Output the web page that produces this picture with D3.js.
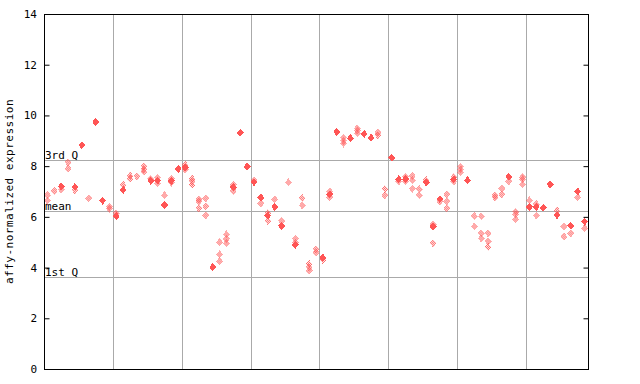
<!DOCTYPE html>
<html>
<head>
<meta charset="utf-8">
<script src="https://cdn.jsdelivr.net/npm/d3@7"></script>
<style>
  body { margin: 0; background: #fff; }
  text { font-family: "DejaVu Sans Mono", monospace; font-size: 11px; }
</style>
</head>
<body>
<div id="chart"></div>
<script>
// samples along x, every 10 samples a gray divider
const sampleCount = 79;
const groupSize = 10;
const yTicks = [0, 2, 4, 6, 8, 10, 12, 14];
const refNames = ['3rd Q', 'mean', '1st Q'];
const refValues = [8.24, 6.22, 3.62];

// [sample index, value] - filled markers
const solidPts = [
  [2, 7.2], [4, 7.18], [5, 8.83], [7, 9.74], [8, 6.64], [10, 6.03], [11, 7.06],
  [15, 7.42], [16, 7.43], [17, 6.47], [18, 7.42], [19, 7.89], [20, 7.95], [24, 4.02],
  [27, 7.17], [28, 9.32], [29, 7.98], [30, 7.37], [31, 6.76], [32, 6.05], [33, 6.39],
  [34, 5.64], [36, 4.9], [40, 4.39], [41, 6.89], [42, 9.35], [44, 9.1], [46, 9.27],
  [47, 9.12], [50, 8.33], [51, 7.48], [52, 7.49], [55, 7.36], [56, 5.62], [57, 6.7],
  [59, 7.48], [61, 7.44], [67, 7.58], [70, 6.39], [71, 6.39], [72, 6.36], [73, 7.28],
  [74, 6.07], [76, 5.65], [77, 7.0], [78, 5.81],
];

// [sample index, value] - dithered markers
const hatchPts = [
  [0, 6.86], [0, 6.64], [1, 7.02], [2, 7.08], [3, 8.15], [3, 7.9], [4, 7.05], [6, 6.73],
  [9, 6.4], [9, 6.32], [10, 6.14], [11, 7.26], [12, 7.62], [12, 7.5], [13, 7.6],
  [14, 8.0], [14, 7.88], [14, 7.78], [15, 7.5], [16, 7.55], [16, 7.32], [17, 6.85],
  [18, 7.5], [18, 7.35], [20, 8.05], [20, 7.87], [21, 7.5], [21, 7.4], [21, 7.26],
  [22, 6.69], [22, 6.61], [22, 6.34], [23, 6.73], [23, 6.42], [23, 6.06], [25, 5.0],
  [25, 4.52], [25, 4.25], [26, 5.31], [26, 5.13], [26, 4.96], [27, 7.26], [27, 7.02],
  [30, 7.43], [31, 6.53], [32, 6.15], [32, 5.84], [33, 6.69], [34, 5.84], [35, 7.36],
  [36, 5.14], [36, 4.98], [37, 6.74], [37, 6.45], [38, 4.14], [38, 4.01], [38, 3.88],
  [39, 4.72], [39, 4.59], [40, 4.3], [41, 7.0], [41, 6.77], [43, 9.12], [43, 9.0],
  [43, 8.89], [45, 9.49], [45, 9.4], [45, 9.29], [48, 9.33], [48, 9.22], [49, 7.1],
  [49, 6.85], [51, 7.39], [52, 7.58], [52, 7.4], [53, 7.61], [53, 7.44], [53, 7.11],
  [54, 7.09], [54, 6.85], [55, 7.45], [56, 5.7], [56, 4.96], [57, 6.61], [58, 6.89],
  [58, 6.61], [58, 6.34], [59, 7.57], [59, 7.39], [60, 7.98], [60, 7.87], [60, 7.75],
  [62, 6.03], [62, 5.62], [63, 6.02], [63, 5.35], [63, 5.15], [64, 5.35], [64, 5.03],
  [64, 4.81], [65, 6.85], [65, 6.77], [66, 7.12], [66, 6.89], [67, 7.4], [68, 6.2],
  [68, 6.1], [68, 5.9], [69, 7.57], [69, 7.48], [69, 7.28], [70, 6.65], [71, 6.5],
  [71, 6.05], [74, 6.24], [75, 5.62], [75, 5.22], [76, 5.35], [77, 6.77], [78, 5.55],
];

const width = 640;
const height = 384;
const margin = { top: 14, right: 52, bottom: 15, left: 44 };
const red = '#ff5555';

const svg = d3.select('#chart')
  .append('svg')
  .attr('width', width)
  .attr('height', height);

// checker pattern for the dithered markers
const pat = svg.append('defs').append('pattern')
  .attr('id', 'dither')
  .attr('width', 2)
  .attr('height', 2)
  .attr('patternUnits', 'userSpaceOnUse');
pat.append('rect').attr('x', 0).attr('y', 0).attr('width', 1).attr('height', 1).attr('fill', red);
pat.append('rect').attr('x', 1).attr('y', 1).attr('width', 1).attr('height', 1).attr('fill', red);

const x = d3.scaleBand()
  .domain(d3.range(sampleCount))
  .range([margin.left, width - margin.right]);

const y = d3.scaleLinear()
  .domain([0, 14])
  .range([height - margin.bottom, margin.top]);

const cx = i => x(i) + x.bandwidth() / 2;

// vertical group dividers
const dividers = d3.range(groupSize, sampleCount, groupSize);
svg.selectAll('.vgrid')
  .data(dividers)
  .enter().append('line')
  .attr('x1', d => Math.round(x(d)) + 0.5)
  .attr('x2', d => Math.round(x(d)) + 0.5)
  .attr('y1', y(14))
  .attr('y2', y(0))
  .attr('stroke', '#aaaaaa')
  .attr('stroke-width', 1);

// quartile / mean lines
svg.selectAll('.ref')
  .data(refValues)
  .enter().append('line')
  .attr('x1', margin.left)
  .attr('x2', width - margin.right)
  .attr('y1', d => Math.round(y(d)) + 0.5)
  .attr('y2', d => Math.round(y(d)) + 0.5)
  .attr('stroke', '#aaaaaa')
  .attr('stroke-width', 1);

svg.selectAll('.refLabel')
  .data(refValues)
  .enter().append('text')
  .attr('x', margin.left + 1)
  .attr('y', d => Math.round(y(d)) - 1)
  .attr('font-size', 11)
  .text((d, i) => refNames[i]);

// markers
const diamond = 'M0,-4L3.5,0L0,4L-3.5,0Z';

svg.selectAll('.hatch')
  .data(hatchPts)
  .enter().append('path')
  .attr('d', diamond)
  .attr('transform', d => `translate(${cx(d[0])},${y(d[1])})`)
  .attr('fill', 'url(#dither)')
  .attr('shape-rendering', 'crispEdges');

svg.selectAll('.solid')
  .data(solidPts)
  .enter().append('path')
  .attr('d', diamond)
  .attr('transform', d => `translate(${cx(d[0])},${y(d[1])})`)
  .attr('fill', red)
  .attr('shape-rendering', 'crispEdges');

// frame and axes
const plotL = margin.left;
const plotR = width - margin.right;

svg.append('g')
  .attr('transform', `translate(${plotL + 0.5},0)`)
  .call(d3.axisRight(y).tickValues(yTicks).tickSize(5).tickFormat(''))
  .call(g => g.select('.domain').remove());

svg.append('g')
  .attr('transform', `translate(${plotR + 0.5},0)`)
  .call(d3.axisLeft(y).tickValues(yTicks).tickSize(5).tickFormat(''))
  .call(g => g.select('.domain').remove());

svg.append('rect')
  .attr('x', plotL + 0.5)
  .attr('y', y(14) + 0.5)
  .attr('width', plotR - plotL)
  .attr('height', y(0) - y(14))
  .attr('fill', 'none')
  .attr('stroke', '#000')
  .attr('stroke-width', 1);

svg.selectAll('.yLabel')
  .data(yTicks)
  .enter().append('text')
  .attr('x', 37)
  .attr('y', d => y(d) + 4)
  .attr('text-anchor', 'end')
  .text(d => d);

svg.append('text')
  .attr('transform', `translate(13,${(y(0) + y(14)) / 2}) rotate(-90)`)
  .attr('text-anchor', 'middle')
  .attr('font-size', 11)
  .attr('letter-spacing', 0.5)
  .text('affy-normalized expression');
</script>
</body>
</html>
